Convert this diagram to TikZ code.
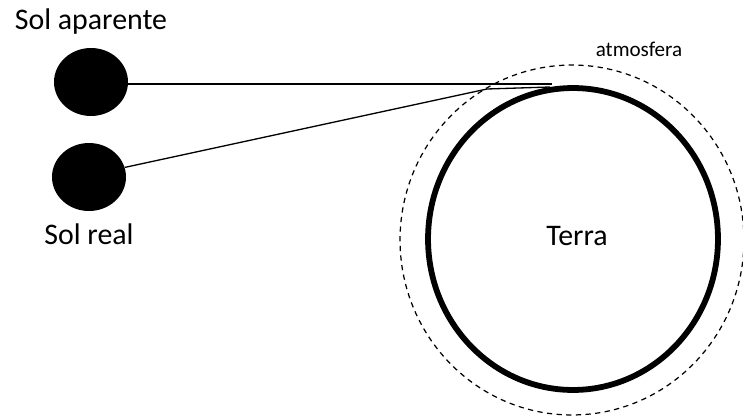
\documentclass[tikz,border=0pt]{standalone}
\usepackage{fontspec}
\setmainfont{Carlito}
\usetikzlibrary{positioning,shapes.geometric}

\begin{document}
\begin{tikzpicture}[x=0.02cm, y=-0.02cm,
    every node/.style={font=\fontsize{17}{20}\selectfont},
    sol/.style={ellipse, fill=black, minimum width=1.48cm, minimum height=1.36cm, inner sep=0pt},
    raio/.style={black, line width=0.75pt}]
    \useasboundingbox (0,0) rectangle (743,419);

    % Sois
    \node[sol] (aparente) at (91,82) {};
    \node[sol] (real) at (89,177) {};
    \node[inner sep=0pt, above=0.25cm of aparente] (txtaparente) {Sol aparente};
    \node[inner sep=0pt, below=0.24cm of real] (txtreal) {Sol real};

    % Terra e atmosfera
    \node[ellipse, draw, line width=0.7pt, dash pattern=on 3pt off 2.5pt, minimum width=6.88cm, minimum height=7cm] (atmosfera) at (572,240) {};
    \node[ellipse, draw, line width=3.3pt, minimum width=5.8cm, minimum height=6.04cm] (terra) at (573,239) {};
    \node (txtterra) at (577,236) {Terra};
    \node[font=\fontsize{12}{14}\selectfont] (txtatmosfera) at (639,49) {atmosfera};

    % Raios
    \coordinate (fim) at (552,84);
    \coordinate (entrada) at (487,89);
    \coordinate (chegada) at (550,87);
    \draw[raio] (aparente.east |- fim) -- (fim);
    \draw[raio] (real.15) -- (entrada) -- (chegada);
\end{tikzpicture}
\end{document}
